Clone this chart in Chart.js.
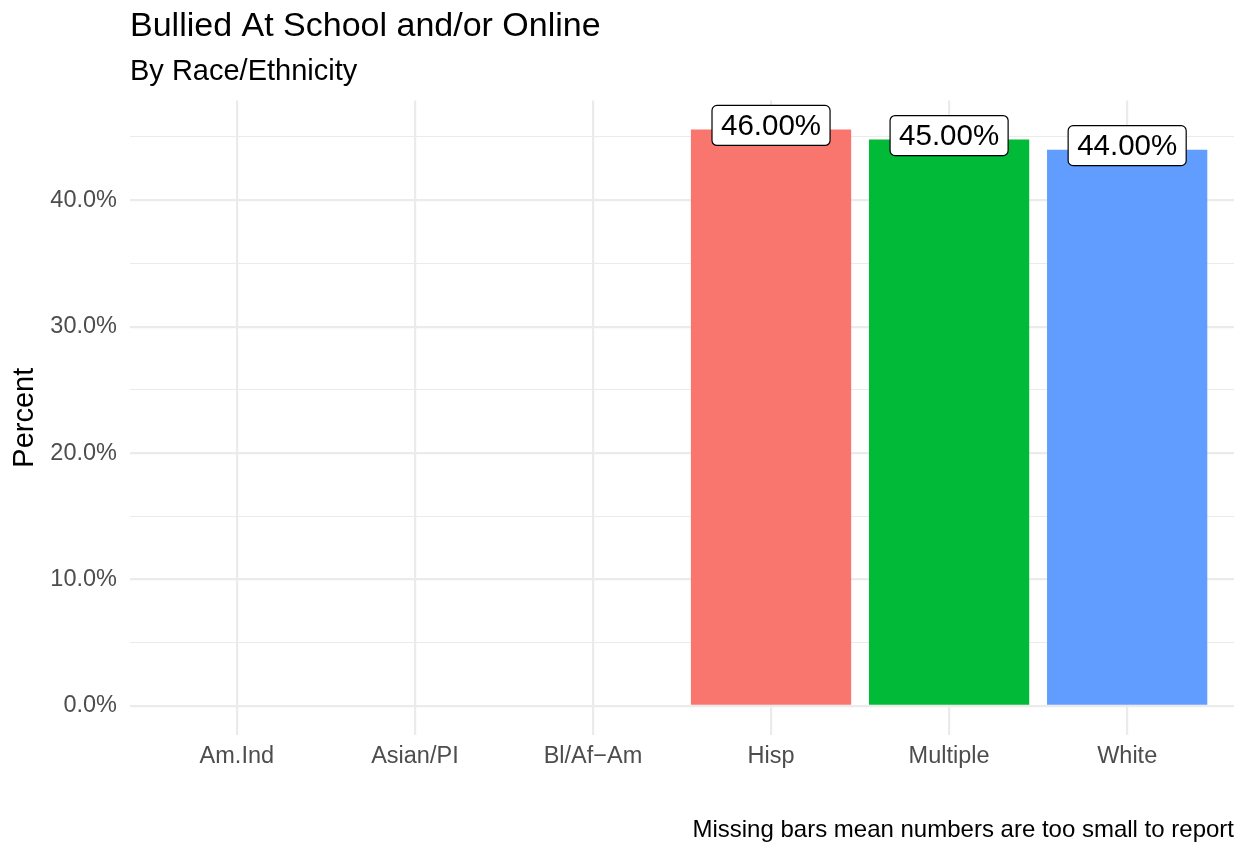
<!DOCTYPE html>
<html>
<head>
<meta charset="utf-8">
<script src="https://cdn.jsdelivr.net/npm/chart.js@4/dist/chart.umd.min.js"></script>
<style>
  html, body { margin: 0; padding: 0; background: #fff; }
  #wrap { width: 1236px; height: 846px; }
</style>
</head>
<body>
<div id="wrap"><canvas id="myChart"></canvas></div>
<script>
// groups on the x axis, in drawing order
const groups = ['Am.Ind', 'Asian/PI', 'Bl/Af\u2212Am', 'Hisp', 'Multiple', 'White'];
// percent bullied; null = too few to report
const pct = [null, null, null, 45.6, 44.8, 44.0];
const barColors = ['#F8766D', '#F8766D', '#F8766D', '#F8766D', '#00BA38', '#619CFF'];
const yTicks = [0, 5, 10, 15, 20, 25, 30, 35, 40, 45];

const FONT = '"Liberation Sans", Arial, Helvetica, sans-serif';

// ggplot style expansion of the axes
const yTop = Math.max(...pct.filter(v => v !== null));
const yPad = yTop * 0.05;

var ctx = document.getElementById('myChart').getContext('2d');

// boxed value labels over each bar
const barLabels = {
    id: 'barLabels',
    afterDatasetsDraw(chart) {
        const c = chart.ctx;
        const meta = chart.getDatasetMeta(0);
        c.save();
        c.font = '29.5px ' + FONT;
        c.textAlign = 'center';
        c.textBaseline = 'middle';
        meta.data.forEach((bar, i) => {
            if (pct[i] === null) return;
            const txt = Math.round(pct[i]).toFixed(2) + '%';
            const w = c.measureText(txt).width + 18;
            const h = 40;
            const cx = bar.x, cy = bar.y - 4;
            c.beginPath();
            c.roundRect(cx - w / 2, cy - h / 2, w, h, 5);
            c.fillStyle = '#fff';
            c.fill();
            c.lineWidth = 1.2;
            c.strokeStyle = '#000';
            c.stroke();
            c.fillStyle = '#000';
            c.fillText(txt, cx, cy + 1);
        });
        c.restore();
    }
};

// footnote in the bottom right corner
const caption = {
    id: 'caption',
    afterDraw(chart) {
        const c = chart.ctx;
        c.save();
        c.font = '24px ' + FONT;
        c.textAlign = 'right';
        c.textBaseline = 'middle';
        c.fillStyle = '#000';
        c.fillText('Missing bars mean numbers are too small to report', chart.chartArea.right, 830);
        c.restore();
    }
};

new Chart(ctx, {
    type: 'bar',
    data: {
        datasets: [{
            data: pct.map((v, i) => ({ x: i, y: v })),
            backgroundColor: barColors,
            borderWidth: 0,
            barPercentage: 0.9,
            categoryPercentage: 1.0
        }]
    },
    options: {
        responsive: true,
        maintainAspectRatio: false,
        animation: false,
        layout: { padding: { left: 8, right: 2, top: 0, bottom: 67 } },
        plugins: {
            legend: { display: false },
            tooltip: { enabled: false },
            title: {
                display: true,
                text: 'Bullied At School and/or Online',
                align: 'start',
                fullSize: false,
                color: '#000',
                font: { family: FONT, size: 34, weight: 'normal' },
                padding: { top: 6, bottom: 0 }
            },
            subtitle: {
                display: true,
                text: 'By Race/Ethnicity',
                align: 'start',
                fullSize: false,
                color: '#000',
                font: { family: FONT, size: 29, weight: 'normal' },
                padding: { top: 8, bottom: 11 }
            }
        },
        scales: {
            x: {
                type: 'linear',
                min: -0.6,
                max: groups.length - 1 + 0.6,
                offset: false,
                afterBuildTicks: (scale) => {
                    scale.ticks = groups.map((g, i) => ({ value: i }));
                },
                ticks: {
                    callback: (v) => groups[v],
                    color: '#4D4D4D',
                    font: { family: FONT, size: 23.5 },
                    padding: 8,
                    maxRotation: 0,
                    autoSkip: false
                },
                grid: { color: '#EBEBEB', lineWidth: 2.2, drawTicks: false, offset: false },
                border: { display: false }
            },
            y: {
                min: -yPad,
                max: yTop + yPad,
                afterBuildTicks: (scale) => {
                    scale.ticks = yTicks.map(v => ({ value: v }));
                },
                afterFit: (scale) => { scale.width = 122; },
                ticks: {
                    callback: (v) => (v % 10 === 0 ? v.toFixed(1) + '%' : ''),
                    color: '#4D4D4D',
                    font: { family: FONT, size: 23.5 },
                    padding: 13
                },
                grid: {
                    color: '#EBEBEB',
                    lineWidth: (c) => (c.tick && c.tick.value % 10 === 0 ? 2.2 : 1.1),
                    drawTicks: false
                },
                border: { display: false },
                title: {
                    display: true,
                    text: 'Percent',
                    color: '#000',
                    font: { family: FONT, size: 29 },
                    padding: 0
                }
            }
        }
    },
    plugins: [barLabels, caption]
});
</script>
</body>
</html>
